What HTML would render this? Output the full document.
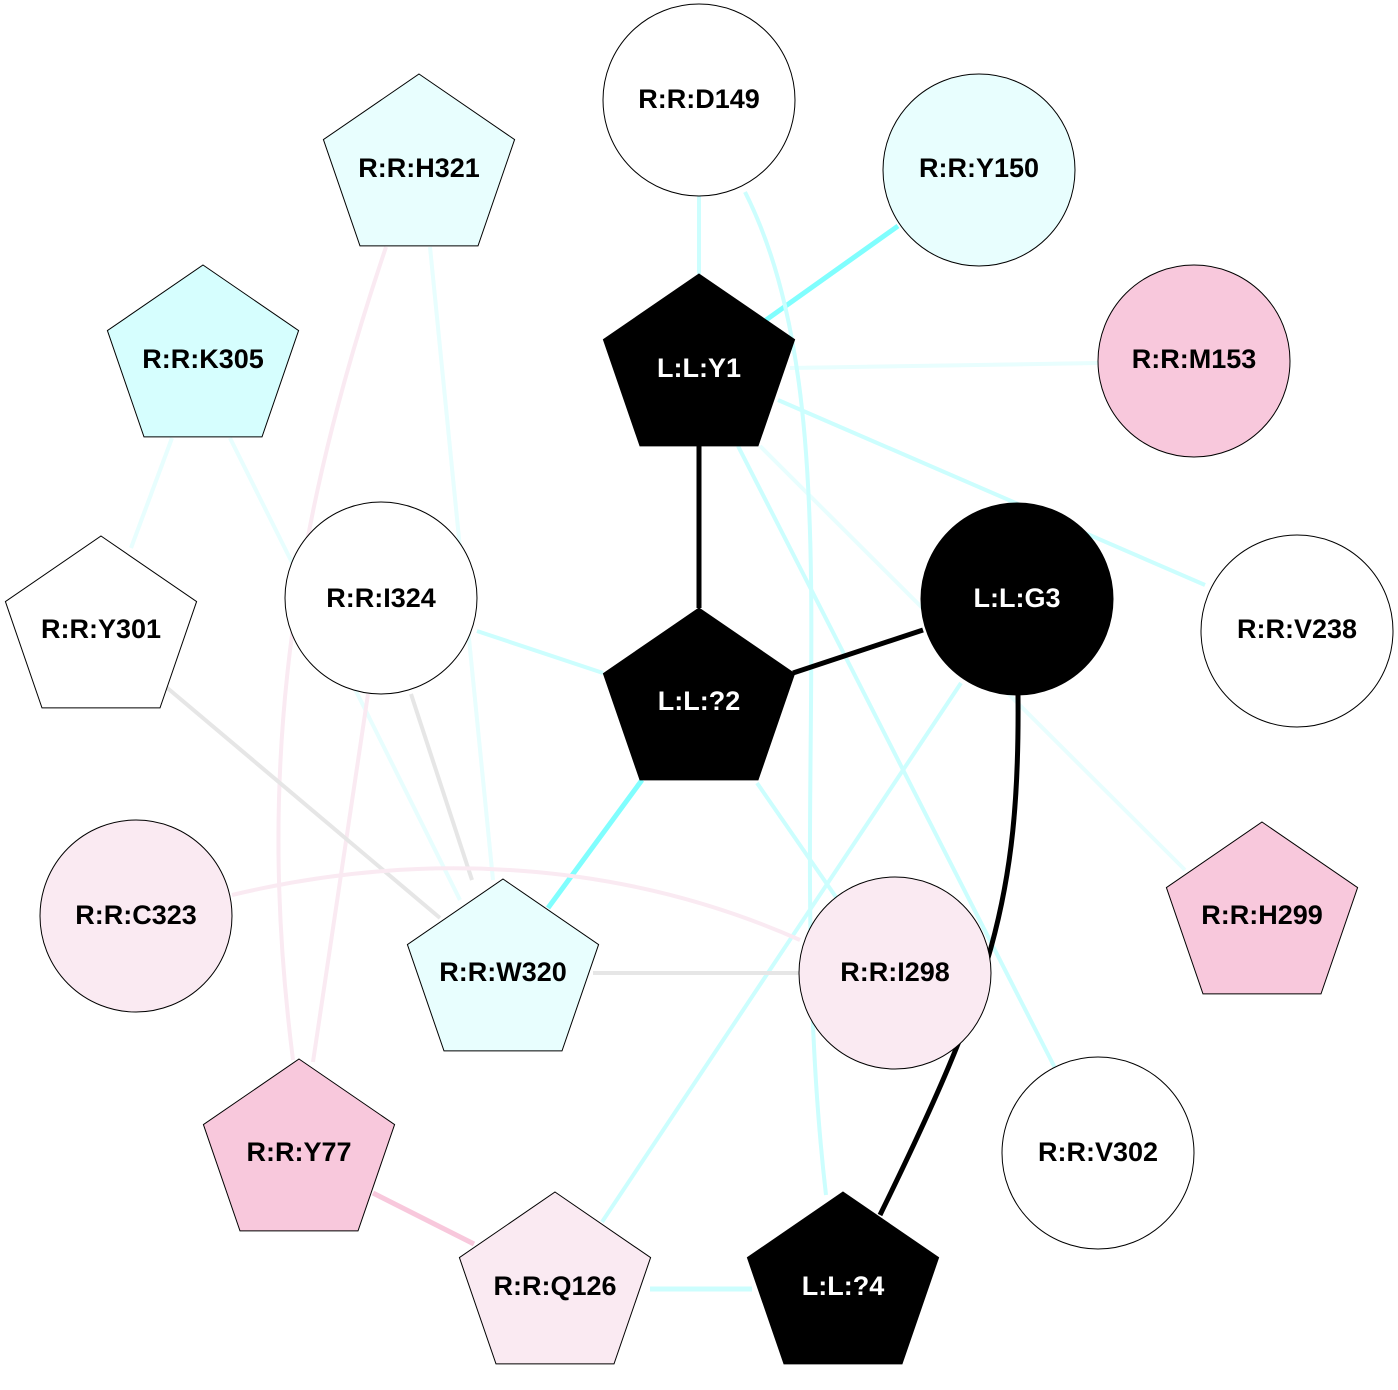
<!DOCTYPE html>
<html><head><meta charset="utf-8"><style>html,body{margin:0;padding:0;background:#fff}svg{display:block}text{font-family:"Liberation Sans",Arial,sans-serif;font-weight:bold;font-size:27px;text-anchor:middle;dominant-baseline:central}</style></head>
<body>
<svg width="1398" height="1390" viewBox="0 0 1398 1390" xmlns="http://www.w3.org/2000/svg">
<defs>
<polygon id="pg" points="0,-95 95.6,-29.4 59,76.9 -59,76.9 -95.6,-29.4"/>
</defs>
<g fill="none" stroke-width="4">
<line x1="699" y1="196" x2="699" y2="274" stroke="#ccfefe"/>
<line x1="898" y1="226" x2="766" y2="320" stroke="#80fefe" stroke-width="5"/>
<line x1="1098" y1="363" x2="790" y2="368" stroke="#e8fefe"/>
<line x1="778" y1="400" x2="1205" y2="585" stroke="#ccfefe"/>
<line x1="760" y1="446" x2="1185" y2="870" stroke="#e8fefe"/>
<line x1="738" y1="446" x2="1055" y2="1068" stroke="#ccfefe"/>
<path d="M745,192 C860,420 780,800 826,1195" stroke="#ccfefe"/>
<line x1="430" y1="247" x2="493" y2="880" stroke="#e8fefe"/>
<path d="M386,247 C280,560 260,800 293,1060" stroke="#faeaf2"/>
<line x1="172" y1="438" x2="131" y2="548" stroke="#e8fefe"/>
<line x1="230" y1="438" x2="460" y2="900" stroke="#e8fefe"/>
<line x1="477" y1="631" x2="603" y2="673" stroke="#ccfefe"/>
<line x1="411" y1="694" x2="472" y2="880" stroke="#e6e6e6"/>
<line x1="368" y1="694" x2="313" y2="1062" stroke="#faeaf2"/>
<line x1="165" y1="686" x2="440" y2="918" stroke="#e6e6e6"/>
<line x1="642" y1="780" x2="548" y2="908" stroke="#80fefe" stroke-width="5"/>
<line x1="757" y1="783" x2="838" y2="900" stroke="#ccfefe"/>
<line x1="961" y1="683" x2="602" y2="1222" stroke="#ccfefe"/>
<path d="M232,895 C420,850 620,860 800,940" stroke="#faeaf2"/>
<line x1="593" y1="973" x2="799" y2="973" stroke="#e6e6e6"/>
<line x1="373" y1="1193" x2="474" y2="1244" stroke="#f8c8dc" stroke-width="5"/>
<line x1="650" y1="1289" x2="752" y2="1289" stroke="#ccfefe" stroke-width="5"/>
<line x1="699" y1="446" x2="699" y2="608" stroke="#000" stroke-width="5"/>
<line x1="793" y1="673" x2="923" y2="630" stroke="#000" stroke-width="5"/>
<path d="M1018,695 C1020,900 990,990 880,1215" stroke="#000" stroke-width="5"/>
</g>
<g stroke="#000" stroke-width="1">
<circle cx="699" cy="100" r="96" fill="#fff"/>
<circle cx="979" cy="170" r="96" fill="#e8fefe"/>
<use href="#pg" x="419" y="169" fill="#e8fefe"/>
<use href="#pg" x="203" y="360" fill="#d6fefe"/>
<use href="#pg" x="699" y="369" fill="#000"/>
<circle cx="1194" cy="361" r="96" fill="#f8c8dc"/>
<use href="#pg" x="101" y="631" fill="#fff"/>
<circle cx="381" cy="598" r="96" fill="#fff"/>
<use href="#pg" x="699" y="703" fill="#000"/>
<circle cx="1017" cy="599" r="96" fill="#000"/>
<circle cx="1297" cy="631" r="96" fill="#fff"/>
<circle cx="136" cy="916" r="96" fill="#faeaf2"/>
<use href="#pg" x="503" y="974" fill="#e8fefe"/>
<circle cx="895" cy="973" r="96" fill="#faeaf2"/>
<use href="#pg" x="1262" y="917" fill="#f8c8dc"/>
<use href="#pg" x="299" y="1154" fill="#f8c8dc"/>
<circle cx="1098" cy="1153" r="96" fill="#fff"/>
<use href="#pg" x="555" y="1287" fill="#faeaf2"/>
<use href="#pg" x="843" y="1287" fill="#000"/>
</g>
<g fill="#000">
<text x="699" y="99">R:R:D149</text>
<text x="979" y="168">R:R:Y150</text>
<text x="419" y="168">R:R:H321</text>
<text x="203" y="359">R:R:K305</text>
<text x="1194" y="359">R:R:M153</text>
<text x="101" y="629">R:R:Y301</text>
<text x="381" y="598">R:R:I324</text>
<text x="1297" y="629">R:R:V238</text>
<text x="136" y="915">R:R:C323</text>
<text x="503" y="972">R:R:W320</text>
<text x="895" y="972">R:R:I298</text>
<text x="1262" y="915">R:R:H299</text>
<text x="299" y="1152">R:R:Y77</text>
<text x="1098" y="1152">R:R:V302</text>
<text x="555" y="1286">R:R:Q126</text>
</g>
<g fill="#fff">
<text x="699" y="368">L:L:Y1</text>
<text x="699" y="701">L:L:?2</text>
<text x="1017" y="598">L:L:G3</text>
<text x="843" y="1286">L:L:?4</text>
</g>
</svg>
</body></html>
